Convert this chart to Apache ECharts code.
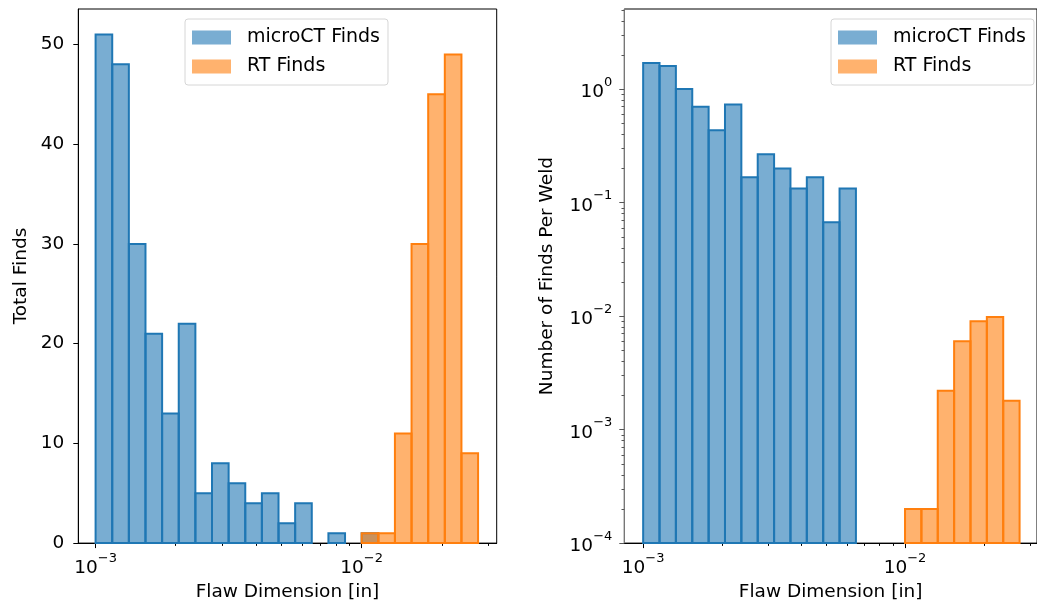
<!DOCTYPE html>
<html>
<head>
<meta charset="utf-8">
<script src="https://cdn.jsdelivr.net/npm/echarts@6/dist/echarts.min.js"></script>
<style>
html, body { margin: 0; padding: 0; background: #fff; }
#main { width: 1037px; height: 607px; }
</style>
</head>
<body>
<div id="main"></div>
<script>
// histogram bins, 16 per decade starting at 1e-3
var binEdges = [0.001, 0.0011548, 0.0013335, 0.0015399, 0.0017783, 0.0020535, 0.0023714, 0.0027384,
    0.0031623, 0.0036517, 0.004217, 0.0048697, 0.0056234, 0.0064938, 0.0074989, 0.0086596,
    0.01, 0.011548, 0.013335, 0.015399, 0.017783, 0.020535, 0.023714, 0.027384];

var microctTotal = [51, 48, 30, 21, 13, 22, 5, 8, 6, 4, 5, 2, 4, 0, 1, 0, 1, 0, 0, 0, 0, 0, 0];
var rtTotal      = [0, 0, 0, 0, 0, 0, 0, 0, 0, 0, 0, 0, 0, 0, 0, 0, 1, 1, 11, 30, 45, 49, 9];

var microctPerWeld = [1.7, 1.6, 1.0, 0.7, 0.433, 0.733, 0.167, 0.267, 0.2, 0.133, 0.167, 0.067, 0.133,
    0, 0, 0, 0, 0, 0, 0, 0, 0, 0];
var rtPerWeld = [0, 0, 0, 0, 0, 0, 0, 0, 0, 0, 0, 0, 0, 0, 0, 0,
    0.0002, 0.0002, 0.0022, 0.006, 0.009, 0.0098, 0.0018];

var xMajorTicks = [0.001, 0.01];
var xMinorTicks = [0.002, 0.003, 0.004, 0.005, 0.006, 0.007, 0.008, 0.009, 0.02, 0.03];
var leftYTicks = [0, 10, 20, 30, 40, 50];
var rightYMajor = [0.0001, 0.001, 0.01, 0.1, 1];
var rightYMinor = [0.0002, 0.0003, 0.0004, 0.0005, 0.0006, 0.0007, 0.0008, 0.0009,
    0.002, 0.003, 0.004, 0.005, 0.006, 0.007, 0.008, 0.009,
    0.02, 0.03, 0.04, 0.05, 0.06, 0.07, 0.08, 0.09,
    0.2, 0.3, 0.4, 0.5, 0.6, 0.7, 0.8, 0.9, 2, 3, 4, 5];

var FONT = 'DejaVu Sans';
var blueEdge = '#1f77b4', blueFill = 'rgba(31,119,180,0.6)';
var orangeEdge = '#ff7f0e', orangeFill = 'rgba(255,127,14,0.6)';

function toBins(counts) {
    var out = [];
    for (var i = 0; i < counts.length; i++) {
        if (counts[i] > 0) out.push([binEdges[i], binEdges[i + 1], counts[i]]);
    }
    return out;
}

function binRenderer(base, fill, stroke) {
    return function (params, api) {
        var tl = api.coord([api.value(0), api.value(2)]);
        var br = api.coord([api.value(1), base]);
        return {
            type: 'rect',
            shape: { x: tl[0], y: tl[1], width: br[0] - tl[0], height: br[1] - tl[1] },
            style: { fill: fill, stroke: stroke, lineWidth: 2 }
        };
    };
}

var powRich = {
    b: { fontFamily: FONT, fontSize: 18.5, color: '#000', verticalAlign: 'bottom', lineHeight: 26 },
    s: { fontFamily: FONT, fontSize: 13, color: '#000', verticalAlign: 'top', lineHeight: 14 }
};
function powLabel(v) {
    var e = Math.round(Math.log10(v));
    return '{b|10}{s|' + (e < 0 ? '\u2212' : '') + Math.abs(e) + '}';
}

function mainX(grid, lo, hi, gap) {
    return {
        type: 'log', gridIndex: grid, min: Math.pow(10, lo), max: Math.pow(10, hi),
        name: 'Flaw Dimension [in]', nameLocation: 'middle', nameGap: gap,
        nameTextStyle: { fontFamily: FONT, fontSize: 18.5, color: '#000' },
        axisLine: { show: true, onZero: false, lineStyle: { color: '#000', width: 1 } },
        axisTick: { show: true, length: 5, customValues: xMajorTicks, lineStyle: { color: '#000' } },
        axisLabel: { show: true, margin: 9, customValues: xMajorTicks, formatter: powLabel, rich: powRich },
        splitLine: { show: false }
    };
}
function minorX(grid, lo, hi) {
    return {
        type: 'log', gridIndex: grid, position: 'bottom', min: Math.pow(10, lo), max: Math.pow(10, hi),
        axisLine: { show: false },
        axisTick: { show: true, length: 2.8, customValues: xMinorTicks, lineStyle: { color: '#000' } },
        axisLabel: { show: false },
        splitLine: { show: false }
    };
}

function legendAt(left) {
    return {
        orient: 'vertical', left: left, top: 19, padding: [9, 8, 9, 7], itemGap: 10,
        itemWidth: 39, itemHeight: 14, icon: 'rect',
        backgroundColor: '#fff', borderColor: '#d6d6d6', borderWidth: 1, borderRadius: 3,
        textStyle: { fontFamily: FONT, fontSize: 19, color: '#000', lineHeight: 18, padding: [0, 0, 0, 11] },
        data: [
            { name: 'microCT Finds', itemStyle: { color: blueFill, borderWidth: 0 } },
            { name: 'RT Finds', itemStyle: { color: orangeFill, borderWidth: 0 } }
        ]
    };
}

var chart = echarts.init(document.getElementById('main'));
var option = {
    animation: false,
    backgroundColor: '#fff',
    grid: [
        { left: 78.3, top: 9, right: 540.3, bottom: 62.7, show: true, borderColor: '#000', borderWidth: 1 },
        { left: 624.3, top: 9, right: -4, bottom: 62.7, show: true, borderColor: '#000', borderWidth: 1 }
    ],
    legend: [legendAt(185), legendAt(831)],
    xAxis: [
        mainX(0, -3.065, -1.4925, 39),
        minorX(0, -3.065, -1.4925),
        mainX(1, -3.072, -1.496, 39),
        minorX(1, -3.072, -1.496)
    ],
    yAxis: [
        {
            type: 'value', gridIndex: 0, min: 0, max: 53.55,
            name: 'Total Finds', nameLocation: 'middle', nameGap: 48,
            nameTextStyle: { fontFamily: FONT, fontSize: 18.5, color: '#000' },
            axisLine: { show: true, lineStyle: { color: '#000' } },
            axisTick: { show: true, length: 5, customValues: leftYTicks, lineStyle: { color: '#000' } },
            axisLabel: { margin: 14, customValues: leftYTicks, fontFamily: FONT, fontSize: 18.5, color: '#000' },
            splitLine: { show: false }
        },
        {
            type: 'log', gridIndex: 1, min: 0.0001, max: 5.08,
            name: 'Number of Finds Per Weld', nameLocation: 'middle', nameGap: 68,
            nameTextStyle: { fontFamily: FONT, fontSize: 18.5, color: '#000' },
            axisLine: { show: true, lineStyle: { color: '#777' } },
            axisTick: { show: true, length: 5, customValues: rightYMajor, lineStyle: { color: '#555' } },
            axisLabel: { margin: 12, customValues: rightYMajor, formatter: powLabel, rich: powRich },
            splitLine: { show: false }
        },
        {
            type: 'log', gridIndex: 1, position: 'left', min: 0.0001, max: 5.08,
            axisLine: { show: false },
            axisTick: { show: true, length: 2.8, customValues: rightYMinor, lineStyle: { color: '#555' } },
            axisLabel: { show: false },
            splitLine: { show: false }
        }
    ],
    series: [
        {
            name: 'microCT Finds', type: 'custom', xAxisIndex: 0, yAxisIndex: 0,
            renderItem: binRenderer(0, blueFill, blueEdge),
            encode: { x: [0, 1], y: 2 }, data: toBins(microctTotal), itemStyle: { color: blueFill }
        },
        {
            name: 'RT Finds', type: 'custom', xAxisIndex: 0, yAxisIndex: 0,
            renderItem: binRenderer(0, orangeFill, orangeEdge),
            encode: { x: [0, 1], y: 2 }, data: toBins(rtTotal), itemStyle: { color: orangeFill }
        },
        {
            name: 'microCT Finds', type: 'custom', xAxisIndex: 2, yAxisIndex: 1,
            renderItem: binRenderer(0.0001, blueFill, blueEdge),
            encode: { x: [0, 1], y: 2 }, data: toBins(microctPerWeld), itemStyle: { color: blueFill }
        },
        {
            name: 'RT Finds', type: 'custom', xAxisIndex: 2, yAxisIndex: 1,
            renderItem: binRenderer(0.0001, orangeFill, orangeEdge),
            encode: { x: [0, 1], y: 2 }, data: toBins(rtPerWeld), itemStyle: { color: orangeFill }
        }
    ]
};
chart.setOption(option);
window.addEventListener('resize', function () { chart.resize(); });
</script>
</body>
</html>
